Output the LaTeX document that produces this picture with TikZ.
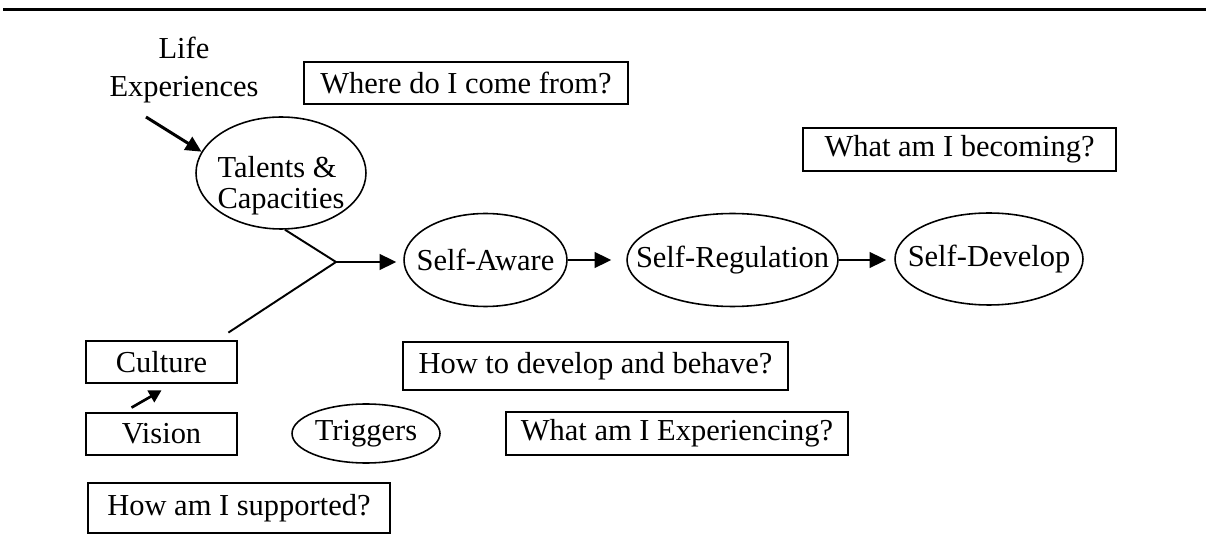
\documentclass[tikz,border=0pt]{standalone}
\usepackage{fontspec}
\setmainfont{Liberation Serif}
\usetikzlibrary{shapes.geometric,arrows.meta}
\tikzset{
  qbox/.style={draw, line width=1.6pt, rectangle, inner sep=0pt},
  oval/.style={draw, line width=0.9pt, ellipse, inner sep=0pt},
  arr/.style={line width=1.1pt, -{Triangle[length=9.5pt,width=9pt]}},
}
\begin{document}
\begin{tikzpicture}[x=0.02cm, y=-0.02cm, font=\fontsize{17.35}{20.5}\selectfont]
    \useasboundingbox (0,0) rectangle (1206,543);
    \draw[line width=1.7pt] (3,10) -- (1206,10);

    % left column
    \node[align=center, font=\fontsize{17.35}{21.6}\selectfont] (life) at (184,70) {Life\\Experiences};
    \node[oval, minimum width=3.4cm, minimum height=2.24cm] (talents) at (281,173)
        {\makebox[0pt]{\raisebox{-0.41cm}[0pt][0pt]{\begin{tabular}{@{}l@{}}Talents \&\\[-2.5pt]Capacities\end{tabular}}}};
    \node[qbox, minimum width=3.02cm, minimum height=0.84cm] (culture) at (161.5,362) {Culture};
    \node[qbox, minimum width=3.02cm, minimum height=0.84cm] (vision) at (161.5,434) {Vision};
    \node[qbox, minimum width=6.04cm, minimum height=1cm] (supported) at (239,508) {How am I supported?};
    \node[oval, minimum width=2.96cm, minimum height=1.18cm] (triggers) at (366,433.5) {\makebox[0pt]{Triggers}};

    % the chain
    \node[oval, minimum width=3.26cm, minimum height=1.86cm] (aware) at (485.5,260) {\makebox[0pt]{Self-Aware}};
    \node[oval, minimum width=4.22cm, minimum height=1.86cm] (reg) at (732.5,260) {\makebox[0pt]{Self-Regulation}};
    \node[oval, minimum width=3.76cm, minimum height=1.84cm] (dev) at (989,259) {\makebox[0pt]{Self-Develop}};

    % questions
    \node[qbox, minimum width=6.48cm, minimum height=0.84cm] (where) at (466,83) {Where do I come from?};
    \node[qbox, minimum width=6.26cm, minimum height=0.86cm] (becoming) at (959.5,149.5) {What am I becoming?};
    \node[qbox, minimum width=7.7cm, minimum height=0.96cm] (behave) at (595.5,366) {How to develop and behave?};
    \node[qbox, minimum width=6.84cm, minimum height=0.86cm] (experiencing) at (677,433.5) {What am I Experiencing?};

    \coordinate (lifetail) at (146,117);
    \coordinate (join) at (336,262);

    \draw[line width=1.7pt, -{Triangle[length=9pt,width=8.5pt]}] (lifetail) -- (talents.165);
    \draw[line width=1.1pt] (talents.-86) -- (join);
    \draw[line width=1.1pt] ([shift={(-10,-7)}]culture.north east) -- (join);
    \draw[arr, shorten >=0.14cm] (join) -- (join -| aware.west);
    \draw[arr, shorten >=0.3cm] (aware.east) -- (reg.west);
    \draw[arr, shorten >=0.16cm] (reg.east) -- (reg.east -| dev.west);
    \draw[line width=1.5pt, -{Triangle[length=7pt,width=7.5pt]}] ([shift={(-30,-4)}]vision.north) -- ([shift={(0,6)}]culture.south);
\end{tikzpicture}
\end{document}
